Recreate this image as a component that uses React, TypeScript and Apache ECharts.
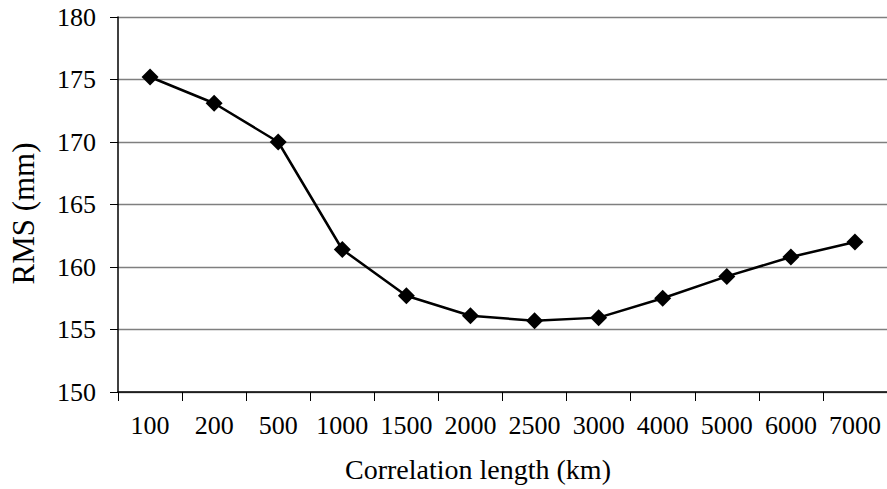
import React, { useEffect, useRef } from "react";
import * as echarts from "echarts";

const categories = ["100", "200", "500", "1000", "1500", "2000", "2500", "3000", "4000", "5000", "6000", "7000"];
const rmsValues = [175.2, 173.1, 170.0, 161.4, 157.7, 156.1, 155.7, 155.95, 157.5, 159.25, 160.8, 162.0];
const yMin = 150;
const yMax = 180;
const yStep = 5;

export default function App() {
  const ref = useRef<HTMLDivElement>(null);
  useEffect(() => {
    if (!ref.current) return;
    const chart = echarts.init(ref.current, undefined, { renderer: "svg" });
    const font = "'Liberation Serif', 'Times New Roman', serif";
    chart.setOption({
      animation: false,
      backgroundColor: "#ffffff",
      grid: { left: 117, top: 17, bottom: 97, right: -3, containLabel: false },
      xAxis: {
        type: "category",
        data: categories,
        boundaryGap: true,
        name: "Correlation length (km)",
        nameLocation: "middle",
        nameGap: 63,
        nameTextStyle: { fontFamily: font, fontSize: 28, color: "#000", padding: [0, 49, 0, 0] },
        axisLine: { show: true, lineStyle: { color: "#000", width: 1.5 } },
        axisTick: { show: true, length: 9, inside: false, lineStyle: { color: "#000", width: 1 } },
        axisLabel: { fontFamily: font, fontSize: 26, color: "#000", margin: 20, interval: 0 },
        splitLine: { show: false },
      },
      yAxis: {
        type: "value",
        min: yMin,
        max: yMax,
        interval: yStep,
        name: "RMS (mm)",
        nameLocation: "middle",
        nameGap: 79,
        nameRotate: 90,
        nameTextStyle: { fontFamily: font, fontSize: 31, color: "#000", padding: [0, 18, 0, 0] },
        axisLine: { show: true, lineStyle: { color: "#000", width: 1.5 } },
        axisTick: { show: true, length: 8, inside: false, lineStyle: { color: "#000", width: 1 } },
        axisLabel: { fontFamily: font, fontSize: 26, color: "#000", margin: 22 },
        splitLine: { show: true, lineStyle: { color: "#7f7f7f", width: 1.3 } },
      },
      series: [
        {
          type: "line",
          data: rmsValues,
          symbol: "diamond",
          symbolSize: 17,
          itemStyle: { color: "#000" },
          lineStyle: { color: "#000", width: 2.5 },
          smooth: false,
        },
      ],
    });
    return () => chart.dispose();
  }, []);
  return (
    <div
      ref={ref}
      style={{ position: "fixed", left: 0, top: 0, width: 887, height: 489, background: "#fff" }}
    />
  );
}
